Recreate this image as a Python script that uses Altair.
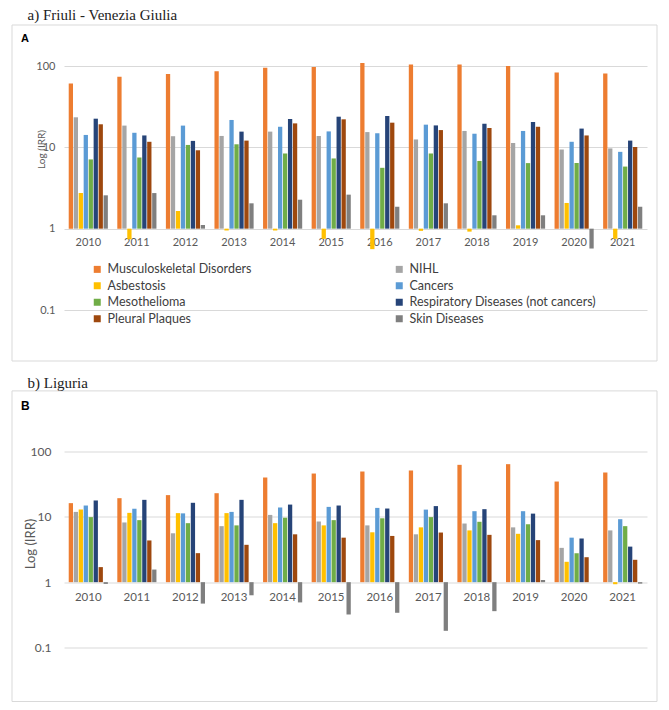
import altair as alt
import pandas as pd

years = [str(y) for y in range(2010, 2022)]
series = ["Musculoskeletal Disorders", "NIHL", "Asbestosis", "Cancers",
          "Mesothelioma", "Respiratory Diseases (not cancers)",
          "Pleural Plaques", "Skin Diseases"]
colors = ["#ED7D31", "#A5A5A5", "#FFC000", "#5B9BD5",
          "#70AD47", "#264478", "#9E480E", "#7F7F7F"]
# legend fills column by column: left column first, then right column
legend_order = [0, 2, 4, 6, 1, 3, 5, 7]
legend_series = [series[i] for i in legend_order]
legend_colors = [colors[i] for i in legend_order]

# a) Friuli - Venezia Giulia
fvg_msd = [61, 74, 80, 86, 95, 97, 109, 104, 104, 100, 83, 81]
fvg_nihl = [23.4, 18.5, 13.7, 13.8, 15.6, 13.8, 15.4, 12.5, 15.9, 11.3, 9.4, 9.7]
fvg_asb = [2.74, 0.74, 1.65, 0.95, 0.95, 0.75, 0.56, 0.94, 0.92, 1.1, 2.07, 0.75]
fvg_canc = [14.2, 15.1, 18.5, 21.7, 17.9, 15.7, 14.9, 19.0, 14.7, 15.9, 11.7, 8.8]
fvg_meso = [7.1, 7.5, 10.7, 10.9, 8.4, 7.3, 5.6, 8.4, 6.8, 6.4, 6.4, 5.8]
fvg_resp = [22.5, 14.0, 12.0, 15.6, 22.3, 23.8, 24.3, 18.6, 19.5, 20.5, 17.0, 12.1]
fvg_pleu = [19.2, 11.7, 9.2, 12.1, 19.7, 22.1, 20.1, 16.3, 17.3, 17.9, 14.0, 10.1]
fvg_skin = [2.57, 2.74, 1.11, 2.05, 2.27, 2.62, 1.86, 2.05, 1.46, 1.46, 0.57, 1.86]

# b) Liguria
lig_msd = [16.2, 19.3, 21.5, 23.0, 40, 46, 49.4, 51.2, 62.5, 64, 34.7, 47.7]
lig_nihl = [11.9, 8.2, 5.6, 7.2, 10.7, 8.5, 7.4, 5.4, 7.9, 6.9, 3.35, 6.2]
lig_asb = [12.9, 11.5, 11.4, 11.4, 8.0, 7.4, 5.8, 6.9, 6.2, 5.5, 2.05, 0.93]
lig_canc = [14.9, 13.3, 11.3, 11.9, 13.9, 14.2, 13.7, 12.9, 12.2, 12.2, 4.8, 9.2]
lig_meso = [9.9, 8.9, 8.0, 7.4, 9.7, 8.9, 9.5, 9.9, 8.4, 7.7, 2.78, 7.2]
lig_resp = [17.8, 18.2, 16.4, 18.2, 15.4, 14.9, 13.4, 14.6, 13.1, 11.2, 4.66, 3.5]
lig_pleu = [1.7, 4.35, 2.78, 3.73, 5.4, 4.8, 5.1, 5.75, 5.3, 4.4, 2.41, 2.2]
lig_skin = [0.94, 1.56, 0.47, 0.63, 0.49, 0.32, 0.34, 0.18, 0.36, 1.08, 1.0, 0.95]

fvg = [fvg_msd, fvg_nihl, fvg_asb, fvg_canc, fvg_meso, fvg_resp, fvg_pleu, fvg_skin]
lig = [lig_msd, lig_nihl, lig_asb, lig_canc, lig_meso, lig_resp, lig_pleu, lig_skin]


def to_long(arrays):
    rows = []
    for s, vals in zip(series, arrays):
        for y, v in zip(years, vals):
            rows.append({"year": y, "series": s, "value": v})
    return pd.DataFrame(rows)


one = pd.DataFrame({"k": [0]})
W = 583


def panel(df, H, title, letter, box_top, box_bottom, letter_y, letter_size,
          tick_size, tick_pad, ax_title_size, ax_title_x, ax_title_y,
          year_size, year_pad, legend, title_offset):
    one_line = H * 2 / 3.0  # position of value 1 in [0.1, 100]
    bars = alt.Chart(df).mark_bar().encode(
        x=alt.X("year:N", sort=years,
                scale=alt.Scale(paddingInner=0.18, paddingOuter=0.09),
                axis=alt.Axis(title=None, orient="bottom", offset=-(H - one_line),
                              labelAngle=0, domain=False, ticks=False, tickSize=0,
                              labelPadding=year_pad, labelFont="Lato",
                              labelFontSize=year_size, labelColor="#595959",
                              grid=False)),
        xOffset=alt.XOffset("series:N", sort=series,
                            scale=alt.Scale(paddingInner=0.14, paddingOuter=0.07)),
        y=alt.Y("value:Q",
                scale=alt.Scale(type="log", domain=[0.1, 100], nice=False),
                axis=alt.Axis(values=[0.1, 1, 10, 100], format="~g",
                              title="Log (IRR)", domain=False, ticks=False,
                              tickSize=0, labelPadding=tick_pad,
                              labelFont="Lato", labelFontSize=tick_size,
                              labelColor="#595959", gridColor="#D9D9D9",
                              gridWidth=1, titleFont="Lato",
                              titleFontSize=ax_title_size,
                              titleFontWeight="normal", titleColor="#595959",
                              titleX=ax_title_x, titleY=ax_title_y,
                              titleAngle=-90, titleAlign="center",
                              titleBaseline="middle")),
        y2=alt.datum(1),
        color=alt.Color("series:N",
                        scale=alt.Scale(domain=legend_series, range=legend_colors),
                        legend=legend),
    )
    box = alt.Chart(one).mark_rect(fillOpacity=0, stroke="#D9D9D9",
                                   strokeWidth=1).encode(
        x=alt.value(-52), x2=alt.value(W + 10),
        y=alt.value(box_top), y2=alt.value(H + box_bottom))
    lab = alt.Chart(one).mark_text(text=letter, font="Liberation Sans",
                                   fontWeight="bold", fontSize=letter_size,
                                   align="left", baseline="alphabetic",
                                   color="#000000").encode(
        x=alt.value(-43), y=alt.value(letter_y))
    return alt.layer(box, bars, lab).properties(
        width=W, height=H,
        title=alt.Title(title, anchor="start", font="Liberation Serif",
                        fontSize=15, fontWeight="normal", color="#222222",
                        dx=16, offset=title_offset, baseline="alphabetic"))


legendA = alt.Legend(orient="none", legendX=27, legendY=197, columns=2,
                     columnPadding=141, rowPadding=3.5, symbolType="square",
                     symbolSize=49, symbolStrokeWidth=0, labelFont="Lato",
                     labelFontSize=12.5, labelColor="#404040", labelOffset=4,
                     title=None, padding=0, labelLimit=400)

chartA = panel(to_long(fvg), 244, "a) Friuli - Venezia Giulia", "A",
               -41, 51, -24, 11, 11, 9, 10, -23, 83, 11, 8, legendA, -10.5)
chartB = panel(to_long(lig), 196, "b) Liguria", "B",
               -60.6, 54, -42, 12, 12, 13, 13, -34, 92, 11.5, 9, None, -12.5)

chart = alt.vconcat(chartA, chartB, spacing=13.5).resolve_legend(
    color="independent").properties(
    padding={"left": 3, "top": 0, "right": 0, "bottom": 0}
).configure_view(stroke=None)

chart.save("out.html", embed_options={"renderer": "svg", "actions": False})
